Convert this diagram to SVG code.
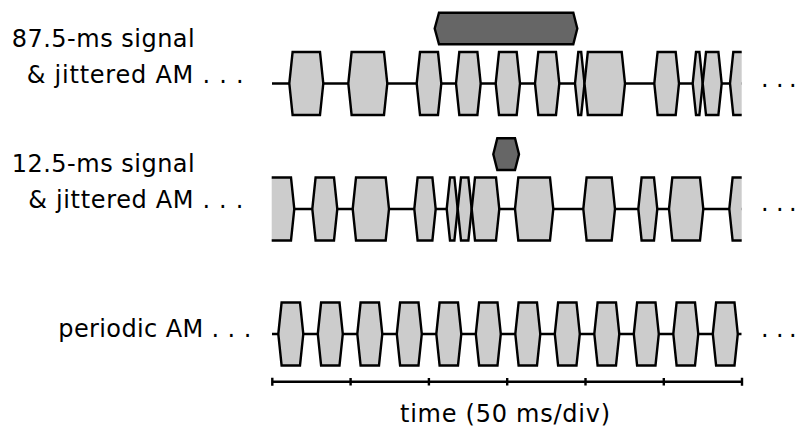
<svg xmlns="http://www.w3.org/2000/svg" xmlns:xlink="http://www.w3.org/1999/xlink" width="798" height="435" viewBox="0 0 798 435">
<style>
.lbl{font-family:"DejaVu Sans","Liberation Sans",sans-serif;font-size:24px;fill:#000}
.env{fill:#cccccc;stroke:#000;stroke-width:2.4;stroke-linejoin:miter}
.sig{fill:#666666;stroke:#000;stroke-width:2.4}
.base{fill:none;stroke:#000;stroke-width:2.4}
</style>
<defs>
<clipPath id="clip"><rect x="271.7" y="0" width="470" height="435"/></clipPath>
<path id="p" d="M0 0 L3.3 -31.5 L21.7 -31.5 L25 0 L21.7 31.5 L3.3 31.5Z"/>
</defs>
<rect width="798" height="435" fill="#fff"/>

<g id="labels">
<text class="lbl" x="11.7" y="46.7" textLength="183" lengthAdjust="spacing">87.5-ms signal</text>
<text class="lbl" x="26.7" y="83.3" textLength="217" lengthAdjust="spacing">&amp; jittered AM . . .</text>
<text class="lbl" x="11.7" y="171.7" textLength="183" lengthAdjust="spacing">12.5-ms signal</text>
<text class="lbl" x="28.3" y="208.3" textLength="215" lengthAdjust="spacing">&amp; jittered AM . . .</text>
<text class="lbl" x="58.3" y="336.7" textLength="193" lengthAdjust="spacing">periodic AM . . .</text>
<text class="lbl" x="400" y="421.7" textLength="210" lengthAdjust="spacing">time (50 ms/div)</text>
<text class="lbl" x="761 768 776 783 789" y="86.5">. . .</text>
<text class="lbl" x="761 768 776 783 789" y="211">. . .</text>
<text class="lbl" x="761 768 776 783 789" y="337">. . .</text>
</g>

<g id="row-87ms" clip-path="url(#clip)">
<path class="base" d="M272 83.5 H741.7"/>
<path class="env" d="M289.3 83.5 L292.6 52 L320 52 L323.3 83.5 L320 115 L292.6 115Z"/>
<path class="env" d="M348.3 83.5 L351.6 52 L384 52 L387.3 83.5 L384 115 L351.6 115Z"/>
<path class="env" d="M416.7 83.5 L420 52 L438 52 L441.3 83.5 L438 115 L420 115Z"/>
<path class="env" d="M456 83.5 L459.3 52 L477.4 52 L480.7 83.5 L477.4 115 L459.3 115Z"/>
<path class="env" d="M495.7 83.5 L499 52 L516.7 52 L520 83.5 L516.7 115 L499 115Z"/>
<path class="env" d="M535 83.5 L538.3 52 L556 52 L559.3 83.5 L556 115 L538.3 115Z"/>
<path class="env" d="M575 83.5 L578.3 52 L581.2 52 L584.5 83.5 L581.2 115 L578.3 115Z"/>
<path class="env" d="M584.5 83.5 L587.8 52 L621.7 52 L625 83.5 L621.7 115 L587.8 115Z"/>
<path class="env" d="M654.3 83.5 L657.6 52 L675.7 52 L679 83.5 L675.7 115 L657.6 115Z"/>
<path class="env" d="M692.7 83.5 L696 52 L699.4 52 L702.7 83.5 L699.4 115 L696 115Z"/>
<path class="env" d="M702.7 83.5 L706 52 L718.4 52 L721.7 83.5 L718.4 115 L706 115Z"/>
<path class="env" d="M730 83.5 L733.3 52 L760 52 L760 115 L733.3 115Z"/>
</g>
<g id="signal-87ms">
<path class="sig" d="M434.7 28.5 L439 12.7 L573.3 12.7 L577.3 28.5 L573.3 44.3 L439 44.3Z"/>
</g>

<g id="row-12ms" clip-path="url(#clip)">
<path class="base" d="M272 209 H741.7"/>
<path class="env" d="M250 209 L250 177.5 L291 177.5 L294.3 209 L291 240.5 L250 240.5Z"/>
<path class="env" d="M312.3 209 L315.6 177.5 L334 177.5 L337.3 209 L334 240.5 L315.6 240.5Z"/>
<path class="env" d="M352.7 209 L356 177.5 L385.7 177.5 L389 209 L385.7 240.5 L356 240.5Z"/>
<path class="env" d="M414.3 209 L417.6 177.5 L432.4 177.5 L435.7 209 L432.4 240.5 L417.6 240.5Z"/>
<path class="env" d="M446.7 209 L450 177.5 L454.4 177.5 L457.7 209 L454.4 240.5 L450 240.5Z"/>
<path class="env" d="M457.7 209 L461 177.5 L468.4 177.5 L471.7 209 L468.4 240.5 L461 240.5Z"/>
<path class="env" d="M471.7 209 L475 177.5 L496 177.5 L499.3 209 L496 240.5 L475 240.5Z"/>
<path class="env" d="M515 209 L518.3 177.5 L550 177.5 L553.3 209 L550 240.5 L518.3 240.5Z"/>
<path class="env" d="M583.3 209 L586.6 177.5 L611.7 177.5 L615 209 L611.7 240.5 L586.6 240.5Z"/>
<path class="env" d="M638.3 209 L641.6 177.5 L654 177.5 L657.3 209 L654 240.5 L641.6 240.5Z"/>
<path class="env" d="M669 209 L672.3 177.5 L700 177.5 L703.3 209 L700 240.5 L672.3 240.5Z"/>
<path class="env" d="M729.3 209 L732.6 177.5 L760 177.5 L760 240.5 L732.6 240.5Z"/>
</g>
<g id="signal-12ms">
<path class="sig" d="M493.3 154.2 L497.3 138.3 L515 138.3 L519 154.2 L515 170 L497.3 170Z"/>
</g>

<g id="row-periodic" clip-path="url(#clip)">
<path class="base" d="M272 334 H741.7"/>
<use class="env" xlink:href="#p" href="#p" x="278.3" y="334"/>
<use class="env" xlink:href="#p" href="#p" x="317.8" y="334"/>
<use class="env" xlink:href="#p" href="#p" x="357.3" y="334"/>
<use class="env" xlink:href="#p" href="#p" x="396.8" y="334"/>
<use class="env" xlink:href="#p" href="#p" x="436.3" y="334"/>
<use class="env" xlink:href="#p" href="#p" x="475.8" y="334"/>
<use class="env" xlink:href="#p" href="#p" x="515.3" y="334"/>
<use class="env" xlink:href="#p" href="#p" x="554.8" y="334"/>
<use class="env" xlink:href="#p" href="#p" x="594.3" y="334"/>
<use class="env" xlink:href="#p" href="#p" x="633.8" y="334"/>
<use class="env" xlink:href="#p" href="#p" x="673.3" y="334"/>
<use class="env" xlink:href="#p" href="#p" x="712.8" y="334"/>
</g>

<g id="time-axis">
<path class="base" d="M272.3 381.7 H742 M272.3 377.7 V385.7 M350.6 378 V385.4 M428.9 378 V385.4 M507.2 378 V385.4 M585.5 378 V385.4 M663.8 378 V385.4 M742 377.7 V385.7"/>
</g>
</svg>
